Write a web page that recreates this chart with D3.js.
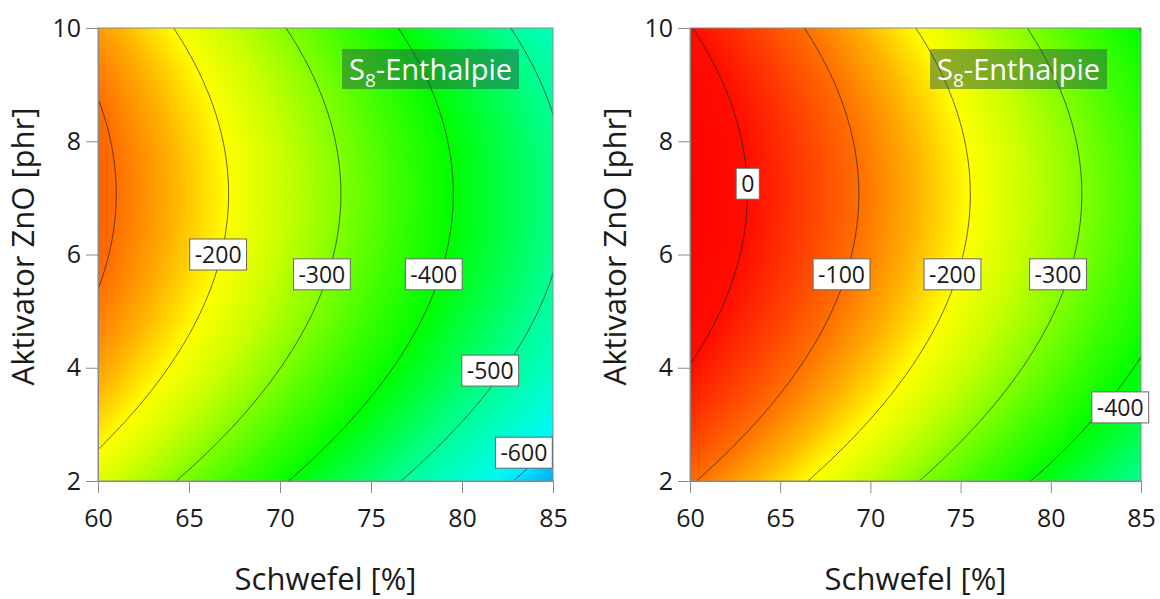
<!DOCTYPE html>
<html><head><meta charset="utf-8">
<script src="https://cdn.jsdelivr.net/npm/d3@7"></script>
<style>
body{margin:0;background:#fff;}
text{font-family:"Open Sans","Noto Sans",sans-serif;fill:#1a1a1a;}
</style>
</head><body>
<svg id="chart" width="1160" height="599"></svg>
<script>
// ---- data ----
const xDomain = [60, 85];
const yDomain = [2, 10];
const xTicks = [60, 65, 70, 75, 80, 85];
const yTicks = [2, 4, 6, 8, 10];
const xTitle = "Schwefel [%]";
const yTitle = "Aktivator ZnO [phr]";

// response-surface model coefficients: f = b0 + bX*x + bY*y + bYY*y^2
const coefLeft  = [603.3, -16.2, 80.6, -5.70];
const coefRight = [738.7, -16.18, 80.26, -5.68];

const levelsLeft  = [-100, -200, -300, -400, -500, -600];
const levelsRight = [0, -100, -200, -300, -400];

const labelValLeft = [-200, -300, -400, -500, -600];
const labelXLeft   = [66.6, 72.3, 78.45, 81.55, 83.4];
const labelYLeft   = [6.0, 5.65, 5.65, 3.95, 2.5];

const labelValRight = [0, -100, -200, -300, -400];
const labelXRight   = [63.2, 68.4, 74.55, 80.4, 83.85];
const labelYRight   = [7.25, 5.65, 5.65, 5.65, 3.3];

// colour ramp (value -> colour)
const colorStops = [60, 0, -50, -100, -150, -200, -250, -300, -350, -400, -500, -580, -600, -640];
const colorVals  = ["#ff0000","#ff0c00","#ff3c00","#ff6e00","#ffb000","#ffff00","#c8ff00","#82ff00","#3cff00","#00ff00","#00ff96","#00fbf0","#00e6ff","#00a0f0"];

const panels = [
  {x0: 98, x1: 553, coef: coefLeft, levels: levelsLeft, lv: labelValLeft, lx: labelXLeft, ly: labelYLeft},
  {x0: 690, x1: 1141, coef: coefRight, levels: levelsRight, lv: labelValRight, lx: labelXRight, ly: labelYRight}
];
const y0 = 28, y1 = 481;

const svg = d3.select("#chart");
const color = d3.scaleLinear().domain(colorStops).range(colorVals).interpolate(d3.interpolateRgb).clamp(true);

panels.forEach((p, pi) => {
  const xs = d3.scaleLinear().domain(xDomain).range([p.x0, p.x1]);
  const ys = d3.scaleLinear().domain(yDomain).range([y1, y0]);
  const f = (x, y) => p.coef[0] + p.coef[1]*x + p.coef[2]*y + p.coef[3]*y*y;
  const W = p.x1 - p.x0, H = y1 - y0;

  // heat map
  const cv = document.createElement("canvas");
  cv.width = W; cv.height = H;
  const ctx = cv.getContext("2d");
  const img = ctx.createImageData(W, H);
  for (let j = 0; j < H; j++) {
    const yv = ys.invert(y0 + j + 0.5);
    for (let i = 0; i < W; i++) {
      const xv = xs.invert(p.x0 + i + 0.5);
      const c = d3.rgb(color(f(xv, yv)));
      const k = 4*(j*W + i);
      img.data[k] = c.r; img.data[k+1] = c.g; img.data[k+2] = c.b; img.data[k+3] = 255;
    }
  }
  ctx.putImageData(img, 0, 0);
  const g = svg.append("g");
  g.append("image").attr("x", p.x0).attr("y", y0).attr("width", W).attr("height", H)
    .attr("href", cv.toDataURL());

  const clipId = "clip" + pi;
  svg.append("clipPath").attr("id", clipId).append("rect")
    .attr("x", p.x0).attr("y", y0).attr("width", W).attr("height", H);

  // contours (grid extended beyond domain so region edges fall outside the clip)
  const nx = 320, ny = 320;
  const gx0 = 58.5, gx1 = 86.5, gy0 = 11, gy1 = 1;
  const dx = (gx1 - gx0)/(nx - 1), dy = (gy1 - gy0)/(ny - 1);
  const vals = new Float64Array(nx*ny);
  for (let j = 0; j < ny; j++) for (let i = 0; i < nx; i++) vals[j*nx + i] = f(gx0 + i*dx, gy0 + j*dy);
  const contours = d3.contours().size([nx, ny]).thresholds(p.levels)(Array.from(vals));
  const tr = d3.geoTransform({point: function(c, r) {
    this.stream.point(xs(gx0 + (c - 0.5)*dx), ys(gy0 + (r - 0.5)*dy));
  }});
  const path = d3.geoPath(tr);
  g.append("g").attr("clip-path", `url(#${clipId})`)
    .selectAll("path").data(contours).join("path")
    .attr("d", path).attr("fill", "none").attr("stroke", "#222").attr("stroke-width", 0.8)
    .attr("stroke-opacity", 0.9);

  // frame
  g.append("rect").attr("x", p.x0).attr("y", y0).attr("width", W).attr("height", H)
    .attr("fill", "none").attr("stroke", "#8a8a8a").attr("stroke-width", 1);

  // contour labels
  p.lv.forEach((v, k) => {
    const lg = g.append("g");
    const t = lg.append("text").attr("x", xs(p.lx[k])).attr("y", ys(p.ly[k]))
      .attr("text-anchor", "middle").attr("dy", "0.36em")
      .style("font-size", "23px").text(d3.format("d")(v).replace("−", "-"));
    const bb = t.node().getBBox();
    const bw = bb.width + 10, bh = 31;
    lg.insert("rect", "text").attr("x", xs(p.lx[k]) - bw/2).attr("y", ys(p.ly[k]) - bh/2)
      .attr("width", bw).attr("height", bh).attr("fill", "#fff").attr("stroke", "#666").attr("stroke-width", 1);
  });

  // S8-Enthalpie tag
  const tg = g.append("g");
  const tt = tg.append("text").attr("y", y0 + 52).attr("text-anchor", "start").style("font-size", "29px").style("fill", "#fff");
  tt.append("tspan").text("S");
  tt.append("tspan").attr("dy", 7).style("font-size", "19px").text("8");
  tt.append("tspan").attr("dy", -7).text("-Enthalpie");
  const tb = tt.node().getBBox();
  const boxW = tb.width + 14, boxR = p.x1 - 34;
  tt.attr("x", boxR - boxW + 7);
  tg.insert("rect", "text").attr("x", boxR - boxW).attr("y", y0 + 21).attr("width", boxW).attr("height", 40)
    .attr("fill", "rgb(40,90,70)").attr("fill-opacity", 0.5);

  // axes
  const ax = g.append("g").attr("transform", `translate(0,${y1})`)
    .call(d3.axisBottom(xs).tickValues(xTicks).tickSize(12).tickPadding(16).tickFormat(d3.format("d")));
  const ay = g.append("g").attr("transform", `translate(${p.x0},0)`)
    .call(d3.axisLeft(ys).tickValues(yTicks).tickSize(12).tickPadding(5).tickFormat(d3.format("d")));
  [ax, ay].forEach(a => {
    a.select(".domain").attr("stroke", "#8a8a8a");
    a.selectAll(".tick line").attr("stroke", "#8a8a8a");
    a.selectAll(".tick text").style("font-size", "25px").style("font-family", '"Open Sans",sans-serif').attr("fill", "#1a1a1a");
  });

  g.append("text").attr("x", (p.x0 + p.x1)/2).attr("y", 590).attr("text-anchor", "middle")
    .style("font-size", "31px").text(xTitle);
  g.append("text").attr("transform", `translate(${p.x0 - 64},${(y0 + y1)/2 - 8}) rotate(-90)`)
    .attr("text-anchor", "middle").style("font-size", "31px").text(yTitle);
});
</script>
</body></html>
